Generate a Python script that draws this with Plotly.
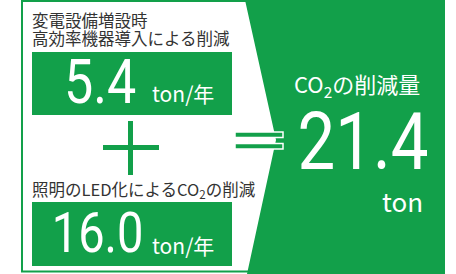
import plotly.graph_objects as go

# ---- data ----
item_labels = [
    ["変電設備増設時", "高効率機器導入による削減"],
    ["照明のLED化によるCO<sub>2</sub>の削減"],
]
item_values = [5.4, 16.0]
item_units = ["ton/年", "ton/年"]
total_label = "CO<sub>2</sub>の削減量"
total_value = [21.4]
total_unit = "ton"

GREEN = "#12a04a"
DARK = "#333333"
JP = "Noto Sans CJK JP, Noto Sans, sans-serif"
NUM = "Roboto, Noto Sans, sans-serif"

W, H = 456, 274
fig = go.Figure()
fig.add_trace(go.Scatter(x=[0, W], y=[0, H], mode="markers",
                         marker=dict(opacity=0), hoverinfo="skip", showlegend=False))

shapes = []
shapes.append(dict(type="path", path="M 262,1 L 22,1 L 22,271.5 L 262,271.5",
                   line=dict(color=GREEN, width=2), layer="above"))
box_y = [(52, 115), (202, 266)]
for (y0, y1) in box_y:
    shapes.append(dict(type="rect", x0=32, x1=232, y0=y0, y1=y1,
                       fillcolor=GREEN, line=dict(width=0)))
shapes.append(dict(type="rect", x0=128, x1=133, y0=121, y1=175, fillcolor=GREEN, line=dict(width=0)))
shapes.append(dict(type="rect", x0=103, x1=159, y0=145, y1=150, fillcolor=GREEN, line=dict(width=0)))
shapes.append(dict(type="path", path="M 245,0 L 445,0 L 445,274 L 247,274 L 276,140 Z",
                   fillcolor=GREEN, line=dict(width=0), layer="above"))
for (y0, y1) in [(132, 137.5), (143.5, 149)]:
    shapes.append(dict(type="rect", x0=235, x1=283, y0=y0, y1=y1, fillcolor=GREEN,
                       line=dict(color="white", width=1.5), layer="above"))

ann = []
label_y = [[20, 38], [189]]
for lines, ys in zip(item_labels, label_y):
    for t, yy in zip(lines, ys):
        ann.append(dict(x=30, y=yy, text=t, xanchor="left", yanchor="middle", showarrow=False,
                        font=dict(family=JP, size=16.5, color=DARK)))
val_cx = [99.5, 97.5]
val_cy = [81, 233]
val_sz = [62, 56]
for v, cx, cy, sz, u in zip(item_values, val_cx, val_cy, val_sz, item_units):
    ann.append(dict(x=cx, y=cy, text=f"{v:.1f}", xanchor="center", yanchor="middle", showarrow=False,
                    font=dict(family=NUM, size=sz, color="white")))
    ann.append(dict(x=150, y=cy + 12, text=u, xanchor="left", yanchor="middle", showarrow=False,
                    font=dict(family=JP, size=21, color="white")))
ann.append(dict(x=357, y=84, text=total_label, xanchor="center", yanchor="middle", showarrow=False,
                font=dict(family=JP, size=22, color="white")))
ann.append(dict(x=363, y=141.5, text=f"{total_value[0]:.1f}", xanchor="center", yanchor="middle",
                showarrow=False, font=dict(family=NUM, size=80, color="white")))
ann.append(dict(x=402, y=200, text=total_unit, xanchor="center", yanchor="middle", showarrow=False,
                font=dict(family=JP, size=26, color="white")))

fig.update_layout(
    width=W, height=H, margin=dict(l=0, r=0, t=0, b=0),
    paper_bgcolor="white", plot_bgcolor="white",
    xaxis=dict(range=[0, W], visible=False, fixedrange=True),
    yaxis=dict(range=[H, 0], visible=False, fixedrange=True),
    shapes=shapes, annotations=ann, showlegend=False,
)

post = """
document.body.style.margin = '0';
var gd = document.getElementById('{plot_id}');
function squeeze() {
  gd.querySelectorAll('text.annotation-text').forEach(function (t) {
    if (/^[0-9.]+$/.test(t.textContent.trim())) {
      t.style.transformBox = 'fill-box';
      t.style.transformOrigin = 'center';
      t.style.transform = 'scaleX(0.84)';
    }
  });
}
squeeze();
gd.on('plotly_afterplot', squeeze);
"""
fig.write_html("out.html", config={"displayModeBar": False}, post_script=post)
